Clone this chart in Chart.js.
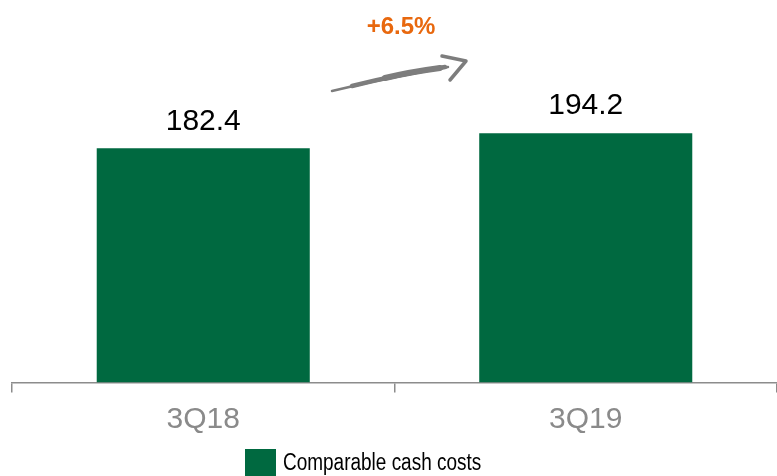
<!DOCTYPE html>
<html lang="en">
<head>
  <meta charset="UTF-8">
  <title>Comparable cash costs</title>
  <script src="https://cdn.jsdelivr.net/npm/chart.js"></script>
  <style>
    html, body { margin: 0; padding: 0; background: #fff; overflow: hidden; }
    #wrap { width: 777px; height: 476px; }
  </style>
</head>
<body>
  <div id="wrap"><canvas id="costChart" width="777" height="476"></canvas></div>

  <script>
    const quarters = ['3Q18', '3Q19'];
    const cashCosts = [182.4, 194.2];
    const seriesName = 'Comparable cash costs';
    const changeLabel = '+6.5%';

    const green = '#006940';
    const fontFamily = '"Liberation Sans", Arial, sans-serif';

    // value labels, growth arrow and legend drawn on top of the chart
    const extras = {
      id: 'extras',
      afterDatasetsDraw(chart) {
        const ctx = chart.ctx;
        const bars = chart.getDatasetMeta(0).data;
        ctx.save();
        ctx.fillStyle = '#000';
        ctx.font = '30px ' + fontFamily;
        ctx.textAlign = 'center';
        ctx.textBaseline = 'middle';
        bars.forEach((bar, i) => {
          ctx.fillText(cashCosts[i].toFixed(1), bar.x, bar.y - 27);
        });

        // growth label
        ctx.fillStyle = '#E8680E';
        ctx.font = 'bold 24px ' + fontFamily;
        ctx.fillText(changeLabel, 401, 27);

        // hand drawn arrow (brush-like shaft, thicker in the middle)
        ctx.strokeStyle = '#7d7d7d';
        ctx.lineCap = 'round';
        ctx.lineWidth = 2.5;
        ctx.beginPath();
        ctx.moveTo(332, 91);
        ctx.quadraticCurveTo(390, 77, 448, 67);
        ctx.stroke();
        ctx.lineWidth = 4.5;
        ctx.beginPath();
        ctx.moveTo(352, 86);
        ctx.quadraticCurveTo(400, 74, 445, 67);
        ctx.stroke();
        ctx.lineWidth = 6;
        ctx.beginPath();
        ctx.moveTo(385, 78);
        ctx.quadraticCurveTo(410, 72, 440, 68);
        ctx.stroke();
        ctx.lineWidth = 3.5;
        ctx.lineJoin = 'round';
        ctx.beginPath();
        ctx.moveTo(442, 56);
        ctx.lineTo(466, 61);
        ctx.lineTo(450, 80);
        ctx.stroke();

        // legend (condensed text like the original)
        ctx.fillStyle = green;
        ctx.fillRect(245, 449, 31, 30);
        ctx.fillStyle = '#000';
        ctx.font = '23px ' + fontFamily;
        ctx.textAlign = 'left';
        ctx.translate(283, 464);
        ctx.scale(0.825, 1);
        ctx.fillText(seriesName, 0, 0);
        ctx.restore();
      }
    };

    new Chart(document.getElementById('costChart'), {
      type: 'bar',
      data: {
        labels: quarters,
        datasets: [{
          label: seriesName,
          data: cashCosts,
          backgroundColor: green,
          barPercentage: 0.557,
          categoryPercentage: 1
        }]
      },
      options: {
        responsive: false,
        animation: false,
        layout: { padding: { left: 12, right: 0, top: 11.5, bottom: 28.5 } },
        plugins: {
          legend: { display: false },
          tooltip: { enabled: false }
        },
        scales: {
          x: {
            grid: { drawOnChartArea: false, color: '#8c8c8c', tickLength: 10, lineWidth: 1.5 },
            border: { color: '#8c8c8c', width: 1.5 },
            ticks: { color: '#8a8a8a', font: { size: 30, family: fontFamily }, padding: 9.5 }
          },
          y: { display: false, min: 0, max: 289 }
        }
      },
      plugins: [extras]
    });
  </script>
</body>
</html>
